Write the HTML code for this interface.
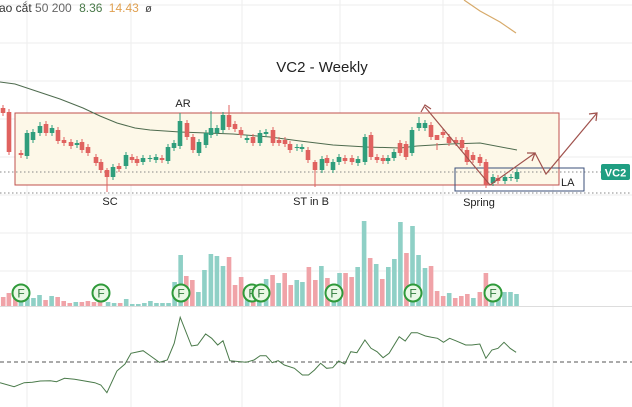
<!DOCTYPE html>
<html><head><meta charset="utf-8"><style>
html,body{margin:0;padding:0;background:#fff;width:632px;height:407px;overflow:hidden}
svg{display:block;font-family:"Liberation Sans",sans-serif}
</style></head><body>
<svg id="s" width="632" height="407" viewBox="0 0 632 407" xmlns="http://www.w3.org/2000/svg">
<g id="grid" stroke="#eeeeee" stroke-width="1"></g>
<rect x="15" y="113" width="544" height="72" fill="#fdf8e8" stroke="#c0504d" stroke-width="1"/>
<line x1="0" y1="172" x2="632" y2="172" stroke="#888" stroke-width="1" stroke-dasharray="1.5,2.5"/>
<line x1="0" y1="193" x2="632" y2="193" stroke="#888" stroke-width="1" stroke-dasharray="1.5,2.5"/>
<rect x="455" y="168" width="129" height="23" fill="none" stroke="#3b4f7a" stroke-width="1"/>
<text x="561" y="186" font-size="11" fill="#222">LA</text>
<polyline points="0,82 15,84 33,90 60,99 83,108 100,116 117,123 135,128 150,130 180,132 233,134 270,137 300,141 333,145 367,147 400,148 417,146 450,144 480,143 517,150" fill="none" stroke="#4e6b4e" stroke-width="1"/>
<polyline points="464,0 480,11 500,22 516,33" fill="none" stroke="#d7aa6a" stroke-width="1.2"/>
<g id="candles"></g>
<g stroke="#a0524d" stroke-width="1.2" fill="none">
<polyline points="425,107 490,185 535,153"/>
<polyline points="535,153 546,174 597,113"/>
<polyline points="527,153 535,153 532,161"/>
<polyline points="589,114 597,113 596,121"/>
<polyline points="421,112 425,105 431,109"/>
</g>
<rect x="601" y="164" width="29" height="16" rx="2" fill="#1f9e82"/>
<text x="615.5" y="176.5" font-size="11" font-weight="bold" fill="#fff" text-anchor="middle">VC2</text>
<text x="322" y="72" font-size="15" fill="#222" text-anchor="middle">VC2 - Weekly</text>
<text x="183" y="107" font-size="11" fill="#222" text-anchor="middle">AR</text>
<text x="110" y="205" font-size="11" fill="#222" text-anchor="middle">SC</text>
<text x="311" y="205" font-size="11" fill="#222" text-anchor="middle">ST in B</text>
<text x="479" y="206" font-size="11" fill="#222" text-anchor="middle">Spring</text>
<text x="-1" y="12" font-size="12" fill="#333">ao cắt <tspan fill="#666">50 200</tspan> <tspan dx="4" fill="#4a7a4a">8.36</tspan> <tspan dx="3" fill="#e0a050">14.43</tspan> <tspan dx="3" fill="#444" font-size="11">ø</tspan></text>
<line x1="0" y1="306.5" x2="632" y2="306.5" stroke="#ddd"/>
<g id="vol"></g>
<g id="fc"></g>
<line x1="0" y1="362" x2="632" y2="362" stroke="#555" stroke-width="1" stroke-dasharray="4,3"/>
<polyline id="rsi" fill="none" stroke="#4a7a4a" stroke-width="1"/>
</svg>
<script>
var NS="http://www.w3.org/2000/svg";
function el(p,t,a){var e=document.createElementNS(NS,t);for(var k in a)e.setAttribute(k,a[k]);document.getElementById(p).appendChild(e);return e;}
[27,131,242,340,443,553].forEach(function(x){el("grid","line",{x1:x,y1:0,x2:x,y2:407});});
[5,43,81,119,157,195,233,271].forEach(function(y){el("grid","line",{x1:0,y1:y,x2:632,y2:y});});
var G="#2f9e7c",R="#e0625f";
// x, top, bottom, color, wickTop, wickBot
var c=[[3,108,113,R],[9,112,152,R],[21,153,155,R],[27,133,156,G],[33,132,140,G],[40,126,133,G,122],[46,124,133,R],[52,128,133,G],[58,130,141,R],[64,140,143,R],[71,142,146,R],[77,143,145,G],[82,142,150,R],[88,147,153,R],[96,157,163,R],[101,162,170,R],[107,170,177,R,168,192],[113,167,177,G],[119,166,169,R],[126,155,166,G],[132,157,160,R],[137,159,163,R],[143,158,162,G],[150,158,159,G],[156,157,160,G],[162,158,160,R],[168,147,161,G],[174,143,148,G],[180,121,146,G,113],[187,123,137,R],[193,137,150,R],[199,142,153,G],[206,133,145,G],[211,128,135,G,111],[217,128,133,G],[223,115,130,G],[229,115,127,R,105],[235,124,129,R],[241,130,135,R],[247,138,140,G],[253,137,143,R],[260,133,143,G],[266,132,134,G],[273,130,143,R],[279,140,143,R],[285,140,144,R],[290,144,150,R],[297,147,148,G],[302,147,149,G],[308,150,160,R],[315,162,170,R,160,187],[322,159,170,G],[327,158,163,R],[333,162,170,G],[339,157,162,G],[345,158,161,R],[352,158,162,R],[358,159,163,G],[365,137,162,G],[371,135,157,R],[377,157,160,R],[383,158,161,R],[388,158,161,G],[394,152,158,G],[400,143,153,R],[406,144,157,R],[412,130,153,G],[419,123,128,G,117],[425,123,128,G],[431,125,137,R],[437,135,140,R,150],[443,132,135,R],[449,137,143,R],[456,140,143,R],[462,140,148,R],[467,150,162,R],[473,155,160,R],[480,157,163,R],[486,162,185,R],[493,177,183,G],[498,178,181,R],[505,177,181,G],[511,177,178,G],[517,172,179,G]];
c.forEach(function(d){var x=d[0],t=d[1],b=d[2],col=d[3];var wt=d[4]||t-3,wb=d[5]||b+3;
el("candles","line",{x1:x,y1:wt,x2:x,y2:wb,stroke:col,"stroke-width":1});
el("candles","rect",{x:x-2.3,y:t,width:4.6,height:Math.max(1,b-t),fill:col});});
var T="#8fd0c6",P="#f0a3a8";
var v=[[8,9,P],[22,13,P],[38,8,P],[52,8,T],[68,8,T],[83,8,T],[98,11,T],[113,6,P],[128,10,T],[143,9,P],[158,5,P],[173,3,P],[188,4,T],[203,4,P],[218,5,P],[233,4,P],[248,5,P],[268,4,T],[283,3,T],[298,3,P],[313,7,T],[328,2,T],[343,2,T],[358,3,T],[373,5,T],[388,3,T],[403,3,T],[418,3,T],[433,24,T],[448,51,T],[462,30,P],[477,26,P],[492,14,T],[507,36,T],[523,52,T],[538,50,T],[553,40,T],[568,49,P],[583,21,P],[598,29,P],[613,10,T],[628,15,P],[643,20,T],[660,27,T],[676,31,P],[691,23,T],[706,33,P],[721,21,P],[736,26,T],[750,24,T],[766,39,P],[782,26,P],[797,40,T],[812,28,P],[828,20,T],[842,33,T],[857,33,P],[872,29,P],[887,39,T],[903,85,T],[918,48,P],[933,42,T],[948,27,P],[963,39,T],[978,47,T],[993,84,T],[1008,53,P],[1023,80,T],[1038,51,T],[1054,38,T],[1069,40,P],[1084,15,P],[1099,10,P],[1114,13,T],[1129,8,P],[1144,10,P],[1159,12,P],[1174,8,T],[1190,14,P],[1205,33,P],[1220,15,T],[1236,10,T],[1251,14,T],[1266,14,T],[1281,12,T]];
v.forEach(function(d){var x=d[0]/2.48;el("vol","rect",{x:x-2.3,y:306-d[1],width:4.6,height:d[1],fill:d[2]});});
[21,101,181,252,261,334,413,493].forEach(function(x){
el("fc","circle",{cx:x,cy:293,r:8.5,fill:"#eaf8e6",stroke:"#2f9a3a","stroke-width":2});
var t=el("fc","text",{x:x,y:297.5,"font-size":12,"text-anchor":"middle",fill:"#2f7a3a"});t.textContent="F";});
var r=[[0,518],[35,530],[60,518],[80,517],[100,513],[125,512],[140,515],[160,505],[185,508],[235,518],[250,525],[265,548],[290,483],[310,462],[325,430],[355,422],[370,435],[395,457],[415,450],[432,400],[447,322],[475,408],[490,405],[510,372],[525,385],[540,405],[553,392],[570,452],[610,457],[630,450],[645,437],[660,437],[675,458],[690,452],[705,465],[730,475],[750,495],[765,495],[780,480],[795,460],[810,475],[825,473],[840,453],[855,462],[870,425],[885,428],[905,390],[920,415],[935,425],[950,443],[965,430],[990,380],[1005,393],[1020,368],[1035,368],[1055,378],[1070,382],[1085,385],[1100,397],[1115,385],[1130,392],[1155,405],[1170,405],[1190,402],[1205,445],[1220,420],[1235,415],[1250,397],[1265,415],[1280,427]];
document.getElementById("rsi").setAttribute("points",r.map(function(p){return (p[0]/2.48).toFixed(1)+","+(210+p[1]/3).toFixed(1);}).join(" "));
</script>
</body></html>
